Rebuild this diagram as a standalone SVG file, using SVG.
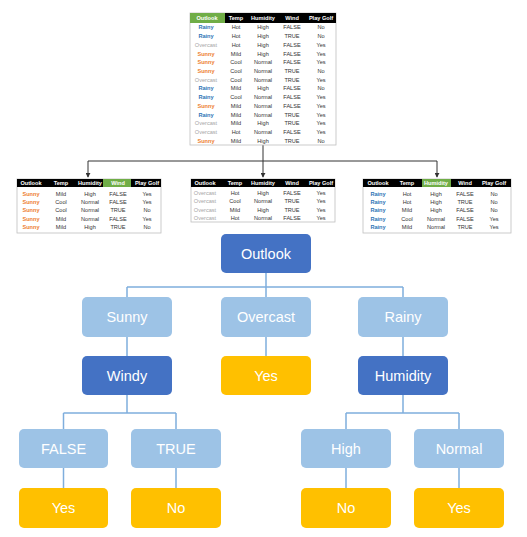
<svg xmlns="http://www.w3.org/2000/svg" width="527" height="537" viewBox="0 0 527 537">
<style>
text{font-family:"Liberation Sans",Arial,sans-serif;}
.t text{font-size:5.6px;text-anchor:middle;fill:#333;}
.t .h{fill:#fff;font-weight:bold;}
.t .r{fill:#2E75B6;font-weight:bold;}
.t .s{fill:#ED7D31;font-weight:bold;}
.t .o{fill:#A6A6A6;}
.box{fill:#fff;stroke:#BFBFBF;stroke-width:0.8;}
.hd{fill:#000;}
.gr{fill:#70AD47;}
.n text{font-size:14.5px;fill:#fff;text-anchor:middle;}
.dk rect{fill:#4472C4;}
.lt rect{fill:#9DC3E6;}
.gd rect{fill:#FFC000;}
.tl{fill:none;stroke:#7FAEDD;stroke-width:1.5;}
.bl{fill:none;stroke:#333;stroke-width:1;}
</style>
<defs>
<marker id="ah" viewBox="0 0 6 6" refX="5" refY="3" markerWidth="5" markerHeight="5" orient="auto">
<path d="M0,0 L6,3 L0,6 z" fill="#333"/>
</marker>
</defs>
<rect width="527" height="537" fill="#fff"/>

<g id="connectors">
<path class="bl" d="M263,145 V161"/>
<path class="bl" d="M88,161 H437"/>
<path class="bl" d="M88,161 V177" marker-end="url(#ah)"/>
<path class="bl" d="M263,161 V177" marker-end="url(#ah)"/>
<path class="bl" d="M437,161 V177" marker-end="url(#ah)"/>
<path class="tl" d="M266,273 V287 M127,287 H403 M127,287 V297 M266,287 V297 M403,287 V297"/>
<path class="tl" d="M127,337 V356 M266,337 V356 M403,337 V356"/>
<path class="tl" d="M127,395 V413 M63.5,413 H176 M63.5,413 V429 M176,413 V429"/>
<path class="tl" d="M403,395 V413 M346,413 H459 M346,413 V429 M459,413 V429"/>
<path class="tl" d="M63.5,468 V488 M176,468 V488 M346,468 V488 M459,468 V488"/>
</g>

<g id="table-all" class="t">
<rect class="box" x="190" y="13" width="146" height="132"/>
<rect class="hd" x="190" y="13" width="146" height="10"/>
<rect class="gr" x="190" y="13" width="35" height="10"/>
<text class="h" x="207" y="20">Outlook</text><text class="h" x="236" y="20">Temp</text><text class="h" x="263" y="20">Humidity</text><text class="h" x="292" y="20">Wind</text><text class="h" x="321" y="20">Play Golf</text>
<text class="r" x="206" y="29.3">Rainy</text><text x="236" y="29.3">Hot</text><text x="263" y="29.3">High</text><text x="292" y="29.3">FALSE</text><text x="321" y="29.3">No</text>
<text class="r" x="206" y="38">Rainy</text><text x="236" y="38">Hot</text><text x="263" y="38">High</text><text x="292" y="38">TRUE</text><text x="321" y="38">No</text>
<text class="o" x="206" y="46.7">Overcast</text><text x="236" y="46.7">Hot</text><text x="263" y="46.7">High</text><text x="292" y="46.7">FALSE</text><text x="321" y="46.7">Yes</text>
<text class="s" x="206" y="55.5">Sunny</text><text x="236" y="55.5">Mild</text><text x="263" y="55.5">High</text><text x="292" y="55.5">FALSE</text><text x="321" y="55.5">Yes</text>
<text class="s" x="206" y="64.2">Sunny</text><text x="236" y="64.2">Cool</text><text x="263" y="64.2">Normal</text><text x="292" y="64.2">FALSE</text><text x="321" y="64.2">Yes</text>
<text class="s" x="206" y="72.9">Sunny</text><text x="236" y="72.9">Cool</text><text x="263" y="72.9">Normal</text><text x="292" y="72.9">TRUE</text><text x="321" y="72.9">No</text>
<text class="o" x="206" y="81.6">Overcast</text><text x="236" y="81.6">Cool</text><text x="263" y="81.6">Normal</text><text x="292" y="81.6">TRUE</text><text x="321" y="81.6">Yes</text>
<text class="r" x="206" y="90.3">Rainy</text><text x="236" y="90.3">Mild</text><text x="263" y="90.3">High</text><text x="292" y="90.3">FALSE</text><text x="321" y="90.3">No</text>
<text class="r" x="206" y="99">Rainy</text><text x="236" y="99">Cool</text><text x="263" y="99">Normal</text><text x="292" y="99">FALSE</text><text x="321" y="99">Yes</text>
<text class="s" x="206" y="107.8">Sunny</text><text x="236" y="107.8">Mild</text><text x="263" y="107.8">Normal</text><text x="292" y="107.8">FALSE</text><text x="321" y="107.8">Yes</text>
<text class="r" x="206" y="116.5">Rainy</text><text x="236" y="116.5">Mild</text><text x="263" y="116.5">Normal</text><text x="292" y="116.5">TRUE</text><text x="321" y="116.5">Yes</text>
<text class="o" x="206" y="125.2">Overcast</text><text x="236" y="125.2">Mild</text><text x="263" y="125.2">High</text><text x="292" y="125.2">TRUE</text><text x="321" y="125.2">Yes</text>
<text class="o" x="206" y="133.9">Overcast</text><text x="236" y="133.9">Hot</text><text x="263" y="133.9">Normal</text><text x="292" y="133.9">FALSE</text><text x="321" y="133.9">Yes</text>
<text class="s" x="206" y="142.6">Sunny</text><text x="236" y="142.6">Mild</text><text x="263" y="142.6">High</text><text x="292" y="142.6">TRUE</text><text x="321" y="142.6">No</text>
</g>

<g id="table-sunny" class="t">
<rect class="box" x="17" y="179" width="144" height="54"/>
<rect class="hd" x="17" y="179" width="144" height="8"/>
<rect class="gr" x="103" y="179" width="28" height="8"/>
<text class="h" x="31" y="185">Outlook</text><text class="h" x="61" y="185">Temp</text><text class="h" x="90" y="185">Humidity</text><text class="h" x="118" y="185">Wind</text><text class="h" x="147" y="185">Play Golf</text>
<text class="s" x="31" y="195.5">Sunny</text><text x="61" y="195.5">Mild</text><text x="90" y="195.5">High</text><text x="118" y="195.5">FALSE</text><text x="147" y="195.5">Yes</text>
<text class="s" x="31" y="203.9">Sunny</text><text x="61" y="203.9">Cool</text><text x="90" y="203.9">Normal</text><text x="118" y="203.9">FALSE</text><text x="147" y="203.9">Yes</text>
<text class="s" x="31" y="212.2">Sunny</text><text x="61" y="212.2">Cool</text><text x="90" y="212.2">Normal</text><text x="118" y="212.2">TRUE</text><text x="147" y="212.2">No</text>
<text class="s" x="31" y="220.5">Sunny</text><text x="61" y="220.5">Mild</text><text x="90" y="220.5">Normal</text><text x="118" y="220.5">FALSE</text><text x="147" y="220.5">Yes</text>
<text class="s" x="31" y="228.9">Sunny</text><text x="61" y="228.9">Mild</text><text x="90" y="228.9">High</text><text x="118" y="228.9">TRUE</text><text x="147" y="228.9">No</text>
</g>

<g id="table-overcast" class="t">
<rect class="box" x="191" y="179" width="144" height="43"/>
<rect class="hd" x="191" y="179" width="144" height="8"/>
<text class="h" x="205" y="185">Outlook</text><text class="h" x="235" y="185">Temp</text><text class="h" x="263" y="185">Humidity</text><text class="h" x="292" y="185">Wind</text><text class="h" x="321" y="185">Play Golf</text>
<text class="o" x="205" y="195">Overcast</text><text x="235" y="195">Hot</text><text x="263" y="195">High</text><text x="292" y="195">FALSE</text><text x="321" y="195">Yes</text>
<text class="o" x="205" y="203.3">Overcast</text><text x="235" y="203.3">Cool</text><text x="263" y="203.3">Normal</text><text x="292" y="203.3">TRUE</text><text x="321" y="203.3">Yes</text>
<text class="o" x="205" y="211.6">Overcast</text><text x="235" y="211.6">Mild</text><text x="263" y="211.6">High</text><text x="292" y="211.6">TRUE</text><text x="321" y="211.6">Yes</text>
<text class="o" x="205" y="219.9">Overcast</text><text x="235" y="219.9">Hot</text><text x="263" y="219.9">Normal</text><text x="292" y="219.9">FALSE</text><text x="321" y="219.9">Yes</text>
</g>

<g id="table-rainy" class="t">
<rect class="box" x="363" y="179" width="148" height="54"/>
<rect class="hd" x="363" y="179" width="148" height="8"/>
<rect class="gr" x="422" y="179" width="29" height="8"/>
<text class="h" x="378" y="185">Outlook</text><text class="h" x="407" y="185">Temp</text><text class="h" x="436" y="185">Humidity</text><text class="h" x="465" y="185">Wind</text><text class="h" x="494" y="185">Play Golf</text>
<text class="r" x="378" y="195.5">Rainy</text><text x="407" y="195.5">Hot</text><text x="436" y="195.5">High</text><text x="465" y="195.5">FALSE</text><text x="494" y="195.5">No</text>
<text class="r" x="378" y="203.9">Rainy</text><text x="407" y="203.9">Hot</text><text x="436" y="203.9">High</text><text x="465" y="203.9">TRUE</text><text x="494" y="203.9">No</text>
<text class="r" x="378" y="212.2">Rainy</text><text x="407" y="212.2">Mild</text><text x="436" y="212.2">High</text><text x="465" y="212.2">FALSE</text><text x="494" y="212.2">No</text>
<text class="r" x="378" y="220.5">Rainy</text><text x="407" y="220.5">Cool</text><text x="436" y="220.5">Normal</text><text x="465" y="220.5">FALSE</text><text x="494" y="220.5">Yes</text>
<text class="r" x="378" y="228.9">Rainy</text><text x="407" y="228.9">Mild</text><text x="436" y="228.9">Normal</text><text x="465" y="228.9">TRUE</text><text x="494" y="228.9">Yes</text>
</g>

<g id="n-outlook" class="n dk"><rect x="221" y="234" width="90" height="39" rx="5"/><text x="266" y="258.7">Outlook</text></g>
<g id="n-sunny" class="n lt"><rect x="82" y="297" width="90" height="40" rx="5"/><text x="127" y="322.2">Sunny</text></g>
<g id="n-overcast" class="n lt"><rect x="221" y="297" width="90" height="40" rx="5"/><text x="266" y="322.2">Overcast</text></g>
<g id="n-rainy" class="n lt"><rect x="358" y="297" width="90" height="40" rx="5"/><text x="403" y="322.2">Rainy</text></g>
<g id="n-windy" class="n dk"><rect x="82" y="356" width="90" height="39" rx="5"/><text x="127" y="380.7">Windy</text></g>
<g id="n-yes-overcast" class="n gd"><rect x="221" y="356" width="90" height="39" rx="5"/><text x="266" y="380.7">Yes</text></g>
<g id="n-humidity" class="n dk"><rect x="358" y="356" width="90" height="39" rx="5"/><text x="403" y="380.7">Humidity</text></g>
<g id="n-false" class="n lt"><rect x="19" y="429" width="89" height="39" rx="5"/><text x="63.5" y="453.7">FALSE</text></g>
<g id="n-true" class="n lt"><rect x="131" y="429" width="90" height="39" rx="5"/><text x="176" y="453.7">TRUE</text></g>
<g id="n-high" class="n lt"><rect x="301" y="429" width="90" height="39" rx="5"/><text x="346" y="453.7">High</text></g>
<g id="n-normal" class="n lt"><rect x="414" y="429" width="90" height="39" rx="5"/><text x="459" y="453.7">Normal</text></g>
<g id="n-yes-false" class="n gd"><rect x="19" y="488" width="89" height="40" rx="5"/><text x="63.5" y="513.2">Yes</text></g>
<g id="n-no-true" class="n gd"><rect x="131" y="488" width="90" height="40" rx="5"/><text x="176" y="513.2">No</text></g>
<g id="n-no-high" class="n gd"><rect x="301" y="488" width="90" height="40" rx="5"/><text x="346" y="513.2">No</text></g>
<g id="n-yes-normal" class="n gd"><rect x="414" y="488" width="90" height="40" rx="5"/><text x="459" y="513.2">Yes</text></g>
</svg>
